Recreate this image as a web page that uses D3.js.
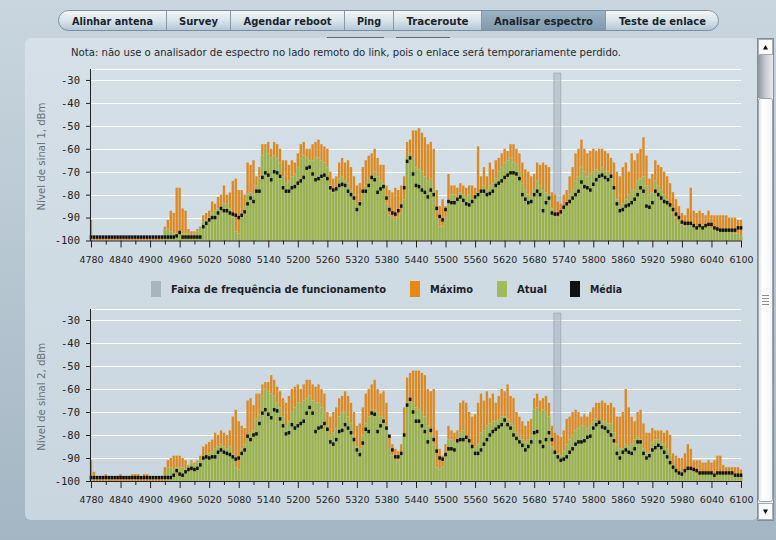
<!DOCTYPE html>
<html>
<head>
<meta charset="utf-8">
<script src="https://cdn.jsdelivr.net/npm/d3@7"></script>
<style>
  html, body { margin: 0; padding: 0; overflow: hidden; background: #b8c8d4; }
  svg { display: block; }
</style>
</head>
<body>
<script>
// spectrum bins: 4780 .. 6100 MHz, 6 MHz apart
const freqStart = 4780;
const freqStep = 6;
const xTicks = d3.range(4780, 6101, 30);
const yTicks = [-100, -90, -80, -70, -60, -50, -40, -30];
const gridVals = [-90, -80, -70, -60, -50, -40, -30, -25];
const operatingBand = [5720, 5734];

const tabLabels = ["Alinhar antena", "Survey", "Agendar reboot", "Ping", "Traceroute", "Analisar espectro", "Teste de enlace"];
const tabEdges = [58, 166, 230, 344, 393, 481, 605, 719];
const tabTextW = [81, 39, 88, 24, 62, 99, 87];
const activeTab = 5;

const legendItems = ["Faixa de frequência de funcionamento", "Máximo", "Atual", "Média"];
const legendColors = ["#a9b5bd", "#e8890f", "#a3ba58", "#111111"];

// chain 1
const maxSig1 = [
  -91,-98,-99,-99,-99,-99,-99,-99,-99,-99,
  -99,-99,-99,-99,-99,-99,-99,-99,-99,-99,
  -99,-99,-99,-99,-99,-94,-91,-87,-88,-77,
  -77,-86,-87,-95,-96,-96,-95,-94,-89,-88,
  -87,-83,-84,-81,-80,-76,-80,-79,-74,-73,
  -78,-78,-80,-66,-67,-65,-72,-68,-58,-58,
  -57,-60,-57,-58,-60,-65,-65,-67,-65,-66,
  -62,-58,-57,-60,-60,-58,-57,-56,-58,-59,
  -60,-70,-73,-72,-66,-64,-66,-65,-68,-72,
  -76,-75,-68,-65,-63,-62,-60,-64,-67,-67,
  -76,-78,-79,-77,-78,-76,-72,-57,-56,-52,
  -52,-51,-53,-55,-58,-57,-60,-78,-85,-82,
  -85,-71,-76,-76,-77,-75,-76,-77,-76,-76,
  -77,-59,-72,-68,-72,-66,-69,-65,-64,-62,
  -60,-61,-58,-58,-60,-62,-66,-69,-70,-72,
  -71,-66,-67,-66,-67,-68,-79,-80,-83,-84,
  -80,-78,-72,-68,-62,-60,-56,-60,-62,-61,
  -60,-61,-60,-60,-61,-62,-64,-66,-70,-72,
  -68,-66,-70,-62,-65,-62,-60,-55,-63,-73,
  -71,-65,-67,-68,-70,-72,-75,-79,-82,-85,
  -88,-89,-86,-77,-87,-88,-87,-88,-89,-87,
  -89,-89,-89,-89,-89,-89,-90,-90,-90,-91,-91
];
const curSig1 = [
  -99,-100,-100,-100,-100,-100,-100,-100,-100,-100,
  -100,-100,-100,-100,-100,-100,-100,-100,-100,-100,
  -100,-100,-100,-100,-100,-95,-95,-96,-97,-97,
  -96,-97,-97,-97,-98,-97,-96,-94,-92,-91,
  -90,-88,-87,-86,-85,-84,-84,-86,-90,-96,
  -97,-88,-85,-80,-79,-80,-76,-73,-63,-60,
  -62,-64,-63,-64,-66,-72,-75,-74,-72,-71,
  -68,-64,-63,-64,-65,-65,-64,-64,-65,-66,
  -68,-76,-79,-78,-73,-72,-74,-75,-78,-80,
  -84,-83,-78,-76,-73,-72,-70,-72,-74,-75,
  -84,-89,-90,-91,-90,-88,-82,-64,-62,-64,
  -68,-69,-70,-72,-74,-73,-78,-90,-94,-94,
  -90,-84,-80,-80,-81,-79,-80,-81,-80,-82,
  -80,-79,-79,-76,-78,-76,-75,-73,-70,-68,
  -66,-65,-64,-66,-67,-70,-75,-78,-80,-81,
  -78,-74,-76,-78,-79,-80,-86,-89,-90,-89,
  -86,-84,-80,-78,-74,-72,-68,-70,-72,-71,
  -70,-69,-70,-68,-70,-70,-72,-78,-82,-85,
  -84,-82,-80,-78,-78,-74,-73,-72,-76,-80,
  -79,-74,-76,-78,-80,-82,-85,-88,-90,-92,
  -93,-94,-93,-92,-93,-94,-94,-93,-94,-94,
  -95,-95,-95,-96,-95,-96,-96,-96,-97,-97,-98
];
const avgSig1 = [
  -98.5,-98.5,-98.5,-98.5,-98.5,-98.5,-98.5,-98.5,-98.5,-98.5,
  -98.5,-98.5,-98.5,-98.5,-98.5,-98.5,-98.5,-98.5,-98.5,-98.5,
  -98.5,-98.5,-98.5,-98.5,-98.5,-98.5,-98.5,-98.5,-98.5,-98,
  -96.5,-98.5,-98.5,-98.5,-98.5,-98.5,-98.5,-98.5,-94,-92.5,
  -91,-90,-90,-88,-86,-87,-87,-88,-88.5,-89,
  -90,-89,-87.5,-84,-81.5,-83,-78.5,-78.5,-72.5,-70.5,
  -71.5,-73.5,-70,-70.5,-72,-77,-78.5,-78.5,-77,-76.5,
  -75,-74,-72.5,-68.5,-68,-71,-73.5,-73,-72,-71.5,
  -73,-77,-78,-77.5,-76,-75.5,-76,-78.5,-80,-81.5,
  -86.5,-84,-78.5,-78.5,-76,-72.5,-73.5,-79,-77.5,-76.5,
  -81.5,-86.5,-88,-88.5,-87,-85,-77,-65.5,-64,-71,
  -76,-76.5,-78,-79,-81,-78,-80,-86,-89.5,-91,
  -86.5,-83,-83.5,-83.5,-82,-81,-82.5,-84,-84.5,-83,
  -81,-80,-78.5,-78.5,-80,-79.5,-78.5,-76,-75,-74,
  -72.5,-71.5,-70.5,-70.5,-71,-73,-80,-82,-83.5,-83,
  -80,-78.5,-80,-87,-83.5,-81.5,-88,-88.5,-88.5,-87.5,
  -85.5,-84,-83,-81.5,-80,-78.5,-74.5,-76.5,-77,-78,
  -75.5,-73.5,-72,-71.5,-72.5,-73.5,-72,-77,-84,-87,
  -86.5,-85,-84.5,-83.5,-82,-80,-77,-78.5,-85,-85.5,
  -83.5,-78.5,-80,-81.5,-83,-83.5,-84.5,-86.5,-88.5,-90,
  -92,-92.5,-92.5,-92.5,-93.5,-94.5,-93.5,-94.5,-93.5,-93,
  -93,-94.5,-95,-95.5,-95.5,-95.5,-95.5,-95.5,-95.5,-94.5,-94.5
];

// chain 2
const maxSig2 = [
  -91,-96,-99,-99,-98,-97,-98,-99,-99,-98,
  -97,-98,-99,-98,-97,-97,-97,-98,-97,-97,
  -98,-99,-98,-99,-99,-94,-91,-90,-89,-89,
  -89,-90,-91,-93,-91,-92,-91,-89,-85,-84,
  -83,-82,-79,-80,-78,-79,-80,-78,-72,-69,
  -74,-76,-77,-65,-64,-67,-62,-62,-58,-57,
  -57,-54,-56,-59,-61,-64,-66,-63,-60,-59,
  -58,-60,-58,-56,-56,-58,-59,-58,-60,-62,
  -70,-72,-70,-68,-64,-63,-61,-63,-66,-70,
  -76,-75,-68,-62,-60,-58,-56,-60,-62,-61,
  -66,-80,-84,-86,-87,-84,-68,-55,-53,-52,
  -52,-52,-53,-54,-60,-61,-60,-78,-86,-89,
  -84,-76,-78,-79,-78,-66,-65,-66,-70,-72,
  -71,-66,-62,-65,-61,-64,-62,-66,-63,-60,
  -61,-58,-63,-64,-70,-72,-74,-76,-74,-73,
  -64,-62,-65,-64,-63,-66,-76,-79,-80,-81,
  -78,-73,-72,-70,-69,-70,-72,-71,-72,-70,
  -68,-66,-66,-65,-66,-67,-66,-68,-72,-72,
  -70,-60,-68,-72,-74,-70,-69,-75,-79,-79,
  -77,-78,-78,-78,-79,-78,-80,-88,-89,-90,
  -90,-88,-84,-86,-91,-91,-91,-92,-92,-91,
  -92,-91,-89,-89,-93,-94,-94,-94,-94,-94,-95
];
const curSig2 = [
  -99,-100,-100,-100,-100,-100,-100,-100,-100,-100,
  -100,-100,-100,-100,-100,-100,-100,-100,-100,-100,
  -100,-100,-100,-100,-100,-100,-94,-94,-95,-94,
  -94,-94,-95,-93,-92,-93,-92,-91,-90,-89,
  -88,-87,-86,-85,-84,-85,-86,-85,-88,-94,
  -95,-86,-84,-80,-79,-78,-73,-71,-63,-60,
  -61,-62,-63,-66,-68,-72,-76,-74,-70,-68,
  -66,-66,-65,-64,-63,-65,-66,-66,-68,-70,
  -76,-80,-79,-77,-72,-70,-70,-72,-75,-80,
  -85,-86,-80,-75,-72,-70,-69,-70,-72,-73,
  -76,-86,-89,-90,-91,-88,-80,-66,-64,-66,
  -68,-69,-70,-72,-76,-80,-84,-94,-95,-94,
  -88,-82,-82,-83,-82,-79,-78,-80,-82,-85,
  -85,-84,-79,-78,-76,-75,-74,-74,-73,-72,
  -72,-73,-75,-76,-79,-81,-82,-83,-82,-80,
  -69,-68,-70,-69,-70,-72,-85,-87,-88,-89,
  -87,-84,-82,-80,-78,-77,-76,-76,-77,-76,
  -74,-73,-74,-74,-74,-75,-75,-79,-84,-86,
  -86,-84,-85,-84,-82,-81,-82,-86,-88,-87,
  -83,-82,-82,-83,-84,-86,-89,-93,-95,-96,
  -96,-96,-95,-96,-96,-97,-97,-97,-97,-97,
  -97,-97,-97,-96,-97,-97,-97,-98,-98,-98,-98
];
const avgSig2 = [
  -98.5,-98.5,-98.5,-98.5,-98.5,-98.5,-98.5,-98.5,-98.5,-98.5,
  -98.5,-98.5,-98.5,-98.5,-98.5,-98.5,-98.5,-98.5,-98.5,-98.5,
  -98.5,-98.5,-98.5,-98.5,-98.5,-98.5,-98.5,-98.5,-97.5,-95.5,
  -97,-97.5,-96,-95,-94.5,-95,-94.5,-93,-90,-89.5,
  -90,-89.5,-89.5,-87.5,-86.5,-87.5,-88,-88.5,-89.5,-90.5,
  -90,-88,-86.5,-80.5,-82,-80,-79.5,-75,-70.5,-69,
  -71,-72.5,-69,-69.5,-73,-76,-79.5,-79,-75.5,-77,
  -76,-75,-74,-70.5,-68,-70.5,-78.5,-77,-76.5,-75,
  -77.5,-83,-84,-82,-78.5,-78,-75.5,-77,-79,-82,
  -86.5,-88.5,-83.5,-77.5,-78.5,-70.5,-71,-78.5,-76,-74,
  -77,-80.5,-86.5,-89.5,-89.5,-88,-80,-67,-64.5,-70,
  -74,-74,-76,-78.5,-83,-78,-82,-87,-90,-90.5,
  -88.5,-86,-86,-86.5,-82.5,-82,-82,-81,-82.5,-85,
  -88,-88,-86.5,-84,-82,-80,-78.5,-77.5,-76.5,-75.5,
  -73.5,-75.5,-77,-80,-81.5,-83,-84.5,-86.5,-85,-83,
  -79,-78.5,-83,-85,-82,-79,-82,-87.5,-89.5,-91,
  -90.5,-89.5,-87.5,-86,-84,-83,-83,-82.5,-81,-80.5,
  -77,-75.5,-74.5,-76.5,-77,-78.5,-80,-82.5,-88,-90,
  -87.5,-86.5,-87.5,-88,-86,-83,-83,-88,-90,-89,
  -86.5,-85.5,-84.5,-85.5,-87.5,-89.5,-92,-94,-95.5,-96.5,
  -97,-95.5,-94.5,-94.5,-95,-95.5,-96.5,-96.5,-96.5,-96.5,
  -96.5,-97.5,-96.5,-96.5,-96.5,-96.5,-96.5,-96.5,-97.5,-97.5,-97.5
];

const freqs = maxSig1.map((_, i) => freqStart + i * freqStep);

const W = 776, H = 540;
const svg = d3.select("body").append("svg")
  .attr("width", W).attr("height", H)
  .attr("viewBox", [0, 0, W, H]);

const defs = svg.append("defs");
function vgrad(id, stops, horiz) {
  const g = defs.append("linearGradient").attr("id", id)
    .attr("x1", 0).attr("y1", 0).attr("x2", horiz ? 1 : 0).attr("y2", horiz ? 0 : 1);
  stops.forEach(([o, c]) => g.append("stop").attr("offset", o).attr("stop-color", c));
}
vgrad("bgGrad", [[0, "#c9d6df"], [1, "#a4b6c3"]]);
vgrad("panelGrad", [[0, "#d5e0e8"], [1, "#c9d6df"]]);
vgrad("tabGrad", [[0, "#f4f8fa"], [0.5, "#d9e4eb"], [1, "#b2c4d1"]]);
vgrad("tabOn", [[0, "#9fb4c4"], [1, "#7e98ab"]]);
vgrad("trackGrad", [[0, "#8f959b"], [0.5, "#c8ccd0"], [1, "#e9ebed"]], true);
vgrad("thumbGrad", [[0, "#e4e6e8"], [0.3, "#ffffff"], [1, "#f2f3f4"]], true);

svg.append("rect").attr("width", W).attr("height", H).attr("fill", "url(#bgGrad)");

// ---- tabs
const tabs = svg.append("g");
defs.append("clipPath").attr("id", "tabClip")
  .append("rect").attr("x", 58).attr("y", 10).attr("width", 661).attr("height", 21).attr("rx", 10.5);
const tabInner = tabs.append("g").attr("clip-path", "url(#tabClip)");
tabInner.selectAll("rect").data(tabLabels).join("rect")
  .attr("x", (d, i) => tabEdges[i]).attr("y", 10)
  .attr("width", (d, i) => tabEdges[i + 1] - tabEdges[i]).attr("height", 21)
  .attr("fill", (d, i) => i === activeTab ? "url(#tabOn)" : "url(#tabGrad)");
tabs.selectAll("line").data(tabEdges.slice(1, -1)).join("line")
  .attr("x1", d => d + 0.5).attr("x2", d => d + 0.5).attr("y1", 10).attr("y2", 31)
  .attr("stroke", "#8399aa");
tabs.append("rect").attr("x", 58.5).attr("y", 10.5).attr("width", 660).attr("height", 20).attr("rx", 10)
  .attr("fill", "none").attr("stroke", "#7890a2");
tabs.selectAll("text").data(tabLabels).join("text")
  .attr("x", (d, i) => (tabEdges[i] + tabEdges[i + 1]) / 2 + 0.5)
  .attr("y", 24.5)
  .attr("text-anchor", "middle")
  .attr("textLength", (d, i) => tabTextW[i])
  .attr("lengthAdjust", "spacingAndGlyphs")
  .style("font", "bold 11px 'DejaVu Sans Condensed', 'DejaVu Sans', sans-serif")
  .attr("fill", "#17242e")
  .text(d => d);

// ---- panel
svg.append("rect").attr("x", 25).attr("y", 38).attr("width", 733).attr("height", 482).attr("rx", 6)
  .attr("fill", "url(#panelGrad)");
svg.append("line").attr("x1", 327).attr("x2", 384).attr("y1", 37.5).attr("y2", 37.5).attr("stroke", "#5c6b76");
svg.append("line").attr("x1", 396).attr("x2", 450).attr("y1", 37.5).attr("y2", 37.5).attr("stroke", "#5c6b76");

svg.append("text").attr("x", 71).attr("y", 56)
  .attr("textLength", 550).attr("lengthAdjust", "spacingAndGlyphs")
  .style("font", "11px 'DejaVu Sans Condensed', 'DejaVu Sans', sans-serif")
  .attr("fill", "#1f2a30")
  .text("Nota: não use o analisador de espectro no lado remoto do link, pois o enlace será temporariamente perdido.");

// ---- charts
const x = d3.scaleLinear().domain([4780, 6100]).range([91, 741]);
const bw = x(freqStart + freqStep) - x(freqStart);

function drawChart(top, bottom, maxVals, curVals, avgVals, title) {
  const y = d3.scaleLinear().domain([-100, -25]).range([bottom, top]);
  const g = svg.append("g");

  g.selectAll("line.grid").data(gridVals).join("line")
    .attr("class", "grid")
    .attr("x1", 90).attr("x2", 741)
    .attr("y1", d => Math.round(y(d)) + 0.5).attr("y2", d => Math.round(y(d)) + 0.5)
    .attr("stroke", "#ffffff").attr("stroke-opacity", 0.95);

  g.append("rect")
    .attr("x", x(operatingBand[0])).attr("width", x(operatingBand[1]) - x(operatingBand[0]))
    .attr("y", y(-27)).attr("height", y(-100) - y(-27))
    .attr("fill", "#a7b3bc").attr("fill-opacity", 0.55)
    .attr("stroke", "#8e9ba6").attr("stroke-opacity", 0.6);

  g.selectAll("rect.max").data(freqs).join("rect")
    .attr("class", "max")
    .attr("x", d => x(d) - bw / 2 + 0.3)
    .attr("width", bw - 0.6)
    .attr("y", (d, i) => y(maxVals[i]))
    .attr("height", (d, i) => y(-100) - y(maxVals[i]))
    .attr("fill", "#dc8922");

  g.selectAll("rect.cur").data(freqs).join("rect")
    .attr("class", "cur")
    .attr("x", d => x(d) - bw / 2)
    .attr("width", bw)
    .attr("y", (d, i) => y(curVals[i]))
    .attr("height", (d, i) => y(-100) - y(curVals[i]))
    .attr("fill", "#99b150")
    .attr("stroke", "#bccb98").attr("stroke-width", 0.5);

  g.selectAll("rect.avg").data(freqs).join("rect")
    .attr("class", "avg")
    .attr("x", d => x(d) - 1.3)
    .attr("width", 2.6)
    .attr("y", (d, i) => y(avgVals[i]) - 1.7)
    .attr("height", 3.4)
    .attr("fill", "#111");

  const xa = g.append("g").attr("transform", `translate(0,${bottom})`)
    .call(d3.axisBottom(x).tickValues(xTicks).tickSize(7).tickSizeOuter(0)
      .tickFormat(d => (d - 4780) % 60 === 0 ? d : ""));
  xa.select(".domain").attr("stroke", "#222").attr("d", `M90,0.5H741`);
  xa.selectAll(".tick line").attr("stroke", "#222")
    .attr("y2", d => (d - 4780) % 60 === 0 ? 7 : 4);
  xa.selectAll(".tick text").attr("y", 15.5)
    .style("font", "9.5px 'DejaVu Sans', sans-serif").attr("fill", "#222");

  const ya = g.append("g").attr("transform", "translate(90,0)")
    .call(d3.axisLeft(y).tickValues(yTicks).tickSize(4).tickSizeOuter(0).tickPadding(6)
      .tickFormat(d => String(d)));
  ya.select(".domain").attr("stroke", "#222");
  ya.selectAll(".tick line").attr("stroke", "#222");
  ya.selectAll(".tick text")
    .style("font", "10.5px 'DejaVu Sans Mono', monospace").attr("fill", "#222");

  g.append("text")
    .attr("transform", `translate(44.5,${(top + bottom) / 2 + 2}) rotate(-90)`)
    .attr("text-anchor", "middle")
    .attr("textLength", 108).attr("lengthAdjust", "spacingAndGlyphs")
    .style("font", "10px 'DejaVu Sans', sans-serif")
    .attr("fill", "#666f75")
    .text(title);
}

drawChart(68.5, 240.5, maxSig1, curSig1, avgSig1, "Nível de sinal 1, dBm");
drawChart(308.5, 481, maxSig2, curSig2, avgSig2, "Nível de sinal 2, dBm");

// ---- legend
const legX = [151, 410, 497, 570];
const legTextW = [215, 43, 30, 32];
const leg = svg.append("g");
leg.selectAll("rect").data(legendItems).join("rect")
  .attr("x", (d, i) => legX[i]).attr("y", 281)
  .attr("width", 10).attr("height", 16)
  .attr("fill", (d, i) => legendColors[i]);
leg.selectAll("text").data(legendItems).join("text")
  .attr("x", (d, i) => legX[i] + 20).attr("y", 293)
  .attr("textLength", (d, i) => legTextW[i]).attr("lengthAdjust", "spacingAndGlyphs")
  .style("font", "bold 11px 'DejaVu Sans Condensed', 'DejaVu Sans', sans-serif")
  .attr("fill", "#1b2227")
  .text(d => d);

// ---- scrollbar
const sb = svg.append("g");
sb.append("rect").attr("x", 757.5).attr("y", 38.5).attr("width", 16).attr("height", 482)
  .attr("fill", "#eceff1").attr("stroke", "#7f8f9b");
sb.append("rect").attr("x", 758).attr("y", 55).attr("width", 15).attr("height", 43).attr("fill", "url(#trackGrad)");
sb.append("rect").attr("x", 758.5).attr("y", 98.5).attr("width", 14).attr("height", 403).attr("rx", 2)
  .attr("fill", "url(#thumbGrad)").attr("stroke", "#9aa3aa");
[295, 298, 301, 304].forEach(v =>
  sb.append("line").attr("x1", 762).attr("x2", 769).attr("y1", v + 0.5).attr("y2", v + 0.5).attr("stroke", "#8a9299"));
sb.append("rect").attr("x", 758.5).attr("y", 39.5).attr("width", 14).attr("height", 15)
  .attr("fill", "#fbfbfb").attr("stroke", "#a5adb3");
sb.append("rect").attr("x", 758.5).attr("y", 503.5).attr("width", 14).attr("height", 16)
  .attr("fill", "#fbfbfb").attr("stroke", "#a5adb3");
sb.append("path").attr("d", "M763,49.5L765.5,45L768,49.5Z").attr("fill", "#111");
sb.append("path").attr("d", "M763,509.5L765.5,514L768,509.5Z").attr("fill", "#111");
</script>
</body>
</html>
